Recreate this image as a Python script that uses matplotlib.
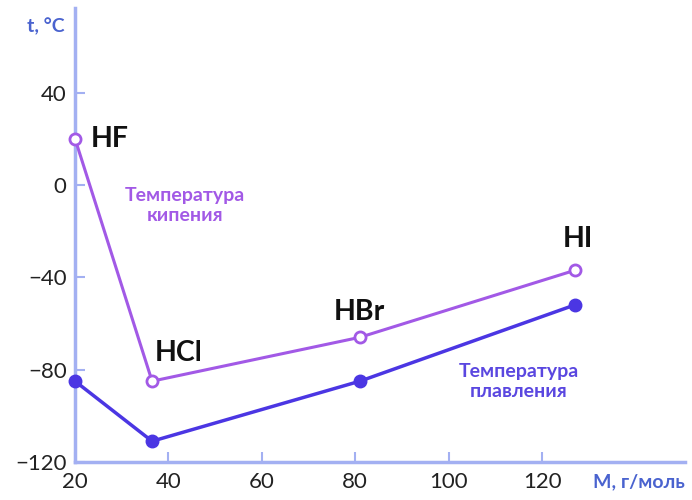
import matplotlib.pyplot as plt

# molar mass, g/mol and temperatures, °C
names = ["HF", "HCl", "HBr", "HI"]
molar_mass = [20, 36.5, 81, 127]
boiling = [20, -85, -66, -37]
melting = [-85, -111, -85, -52]

x_ticks = [20, 40, 60, 80, 100, 120]
y_ticks = [-120, -80, -40, 0, 40]

axis_color = "#a3b0f2"
boil_color = "#a259e6"
melt_color = "#4b36e3"
label_color = "#4a63cf"


def main():
    plt.rcParams["font.family"] = ["Lato", "DejaVu Sans"]
    fig = plt.figure(figsize=(6.92, 5), dpi=100)
    ax = fig.add_axes([0.1084, 0.076, 0.8815, 0.908])

    ax.plot(molar_mass, melting, color=melt_color, lw=2.5, marker="o",
            ms=9, mfc=melt_color, mec=melt_color, clip_on=False, zorder=3)
    ax.plot(molar_mass, boiling, color=boil_color, lw=2.2, marker="o",
            ms=8, mfc="white", mec=boil_color, mew=2, clip_on=False, zorder=4)

    ax.set_xlim(20, 150.6)
    ax.set_ylim(-120, 76.6)
    ax.set_xticks(x_ticks)
    ax.set_yticks(y_ticks)
    ax.set_yticklabels(["\u2212120", "\u221280", "\u221240", "0", "40"])

    for side in ["top", "right"]:
        ax.spines[side].set_visible(False)
    for side in ["left", "bottom"]:
        ax.spines[side].set_color(axis_color)
        ax.spines[side].set_linewidth(2.5)
    ax.tick_params(direction="in", length=7, width=1.5, color=axis_color,
                   labelsize=16, labelcolor="#222222", pad=6)
    ax.tick_params(axis="x", pad=7)

    # compound labels, offsets in points from the boiling point marker
    offsets = [(11, 0), (2, 11), (-19, 9), (-9, 13)]
    for name, x, y, (dx, dy) in zip(names, molar_mass, boiling, offsets):
        va = "center" if name == "HF" else "bottom"
        ax.annotate(name, (x, y), xytext=(dx, dy), textcoords="offset points",
                    fontsize=20.5, fontweight="bold", color="#111111",
                    ha="left", va=va)

    ax.text(43.5, -9, "Температура\nкипения", color=boil_color, fontsize=14,
            fontweight="bold", ha="center", va="center", linespacing=1.2)
    ax.text(115, -85, "Температура\nплавления", color="#5a47e0", fontsize=14,
            fontweight="bold", ha="center", va="center", linespacing=1.2)

    fig.text(0.039, 0.948, "t, °C", color=label_color, fontsize=14,
             fontweight="bold", ha="left", va="center")
    fig.text(0.99, 0.037, "M, г/моль", color=label_color, fontsize=14,
             fontweight="bold", ha="right", va="center")

    fig.savefig("out.png", dpi=100)


if __name__ == "__main__":
    main()
